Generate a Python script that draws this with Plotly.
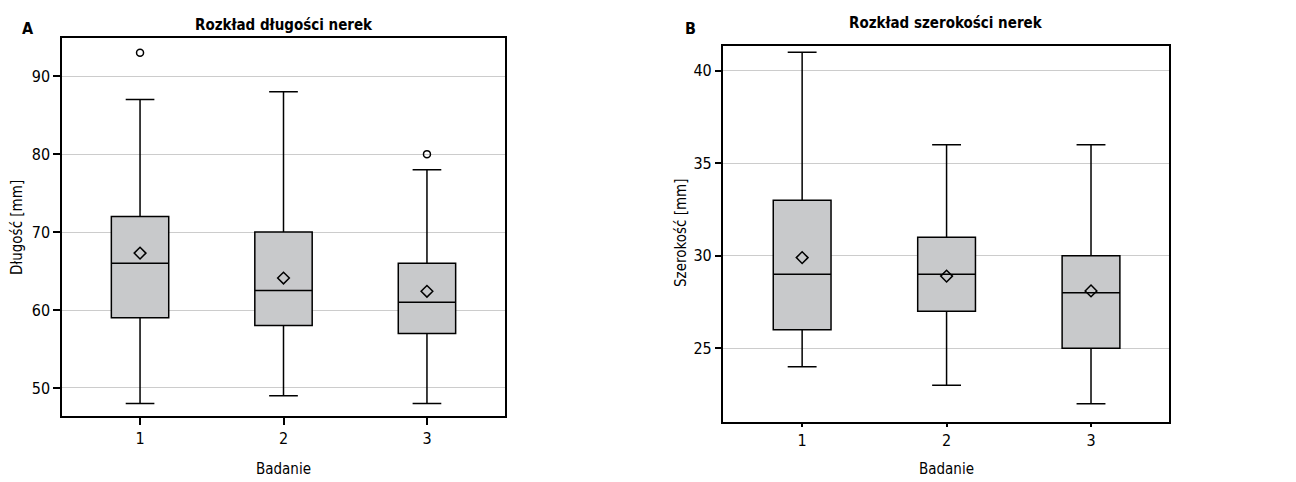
import plotly.graph_objects as go

# ---- data ----
categories = [1, 2, 3]
tick_labels = ["1", "2", "3"]

len_q1 = [59, 58, 57]
len_median = [66, 62.5, 61]
len_q3 = [72, 70, 66]
len_low = [48, 49, 48]
len_high = [87, 88, 78]
len_mean = [67.3, 64.1, 62.4]
len_out_x = [1, 3]
len_out_y = [93, 80]

wid_q1 = [26, 27, 25]
wid_median = [29, 29, 28]
wid_q3 = [33, 31, 30]
wid_low = [24, 23, 22]
wid_high = [41, 36, 36]
wid_mean = [29.9, 28.9, 28.1]

FONT = "DejaVu Sans Condensed"
BOXFILL = "#c8c9cb"

fig = go.Figure()

# Left panel
fig.add_trace(go.Box(
    x=categories, q1=len_q1, median=len_median, q3=len_q3,
    lowerfence=len_low, upperfence=len_high,
    width=0.4, whiskerwidth=0.5, fillcolor=BOXFILL,
    line=dict(color="black", width=1.5), boxpoints=False,
    xaxis="x", yaxis="y", showlegend=False, hoverinfo="skip"))
fig.add_trace(go.Scatter(
    x=categories, y=len_mean, mode="markers",
    marker=dict(symbol="diamond-open", size=9, color="black", line=dict(width=1.5)),
    xaxis="x", yaxis="y", showlegend=False))
fig.add_trace(go.Scatter(
    x=len_out_x, y=len_out_y, mode="markers",
    marker=dict(symbol="circle-open", size=7, color="black", line=dict(width=1.5)),
    xaxis="x", yaxis="y", showlegend=False))

# Right panel
fig.add_trace(go.Box(
    x=categories, q1=wid_q1, median=wid_median, q3=wid_q3,
    lowerfence=wid_low, upperfence=wid_high,
    width=0.4, whiskerwidth=0.5, fillcolor=BOXFILL,
    line=dict(color="black", width=1.5), boxpoints=False,
    xaxis="x2", yaxis="y2", showlegend=False, hoverinfo="skip"))
fig.add_trace(go.Scatter(
    x=categories, y=wid_mean, mode="markers",
    marker=dict(symbol="diamond-open", size=9, color="black", line=dict(width=1.5)),
    xaxis="x2", yaxis="y2", showlegend=False))

W, H = 1296, 482
def px(x):
    return x / W
def py(y):
    return 1 - y / H

axis_common = dict(showline=True, linecolor="black", linewidth=1.5, mirror=True,
                   ticks="outside", tickcolor="black", tickwidth=1.5,
                   tickfont=dict(family=FONT, size=16, color="black"), zeroline=False)

fig.update_layout(
    width=W, height=H, margin=dict(l=0, r=0, t=0, b=0),
    paper_bgcolor="white", plot_bgcolor="white",
    font=dict(family=FONT, color="black"),
    xaxis=dict(domain=[px(62), px(505)], range=[0.456, 3.544], tickvals=categories,
               ticktext=tick_labels, showgrid=False, ticklen=7, anchor="y", **axis_common),
    yaxis=dict(domain=[py(416), py(38)], range=[46.4, 94.9], tickvals=[50, 60, 70, 80, 90],
               showgrid=True, gridcolor="#cccccc", gridwidth=1, ticklen=7, anchor="x",
               **axis_common),
    xaxis2=dict(domain=[px(722.7), px(1169)], range=[0.45, 3.54], tickvals=categories,
                ticktext=tick_labels, showgrid=False, ticklen=3, anchor="y2", **axis_common),
    yaxis2=dict(domain=[py(422.3), py(45.7)], range=[21.0, 41.35], tickvals=[25, 30, 35, 40],
                showgrid=True, gridcolor="#cccccc", gridwidth=1, ticklen=6, anchor="x2",
                **axis_common),
)

ann = [
    dict(text="<b>Rozkład długości nerek</b>", x=px(283.5), y=py(25), size=15),
    dict(text="<b>Rozkład szerokości nerek</b>", x=px(946), y=py(23), size=15),
    dict(text="<b>A</b>", x=px(28), y=py(28), size=16),
    dict(text="<b>B</b>", x=px(690), y=py(28), size=16),
    dict(text="Badanie", x=px(283.5), y=py(469), size=15),
    dict(text="Badanie", x=px(946), y=py(469), size=15),
]
for a in ann:
    fig.add_annotation(text=a["text"], x=a["x"], y=a["y"], xref="paper", yref="paper",
                       xanchor="center", yanchor="middle", showarrow=False,
                       font=dict(family=FONT, size=a["size"], color="black"))
fig.add_annotation(text="Długość [mm]", x=px(17), y=py(228), xref="paper", yref="paper",
                   textangle=-90, xanchor="center", yanchor="middle", showarrow=False,
                   font=dict(family=FONT, size=15, color="black"))
fig.add_annotation(text="Szerokość [mm]", x=px(681), y=py(232), xref="paper", yref="paper",
                   textangle=-90, xanchor="center", yanchor="middle", showarrow=False,
                   font=dict(family=FONT, size=15, color="black"))

fig.write_html("out.html", config={"displayModeBar": False},
               post_script="document.body.style.margin='0';document.body.style.overflow='hidden';")
